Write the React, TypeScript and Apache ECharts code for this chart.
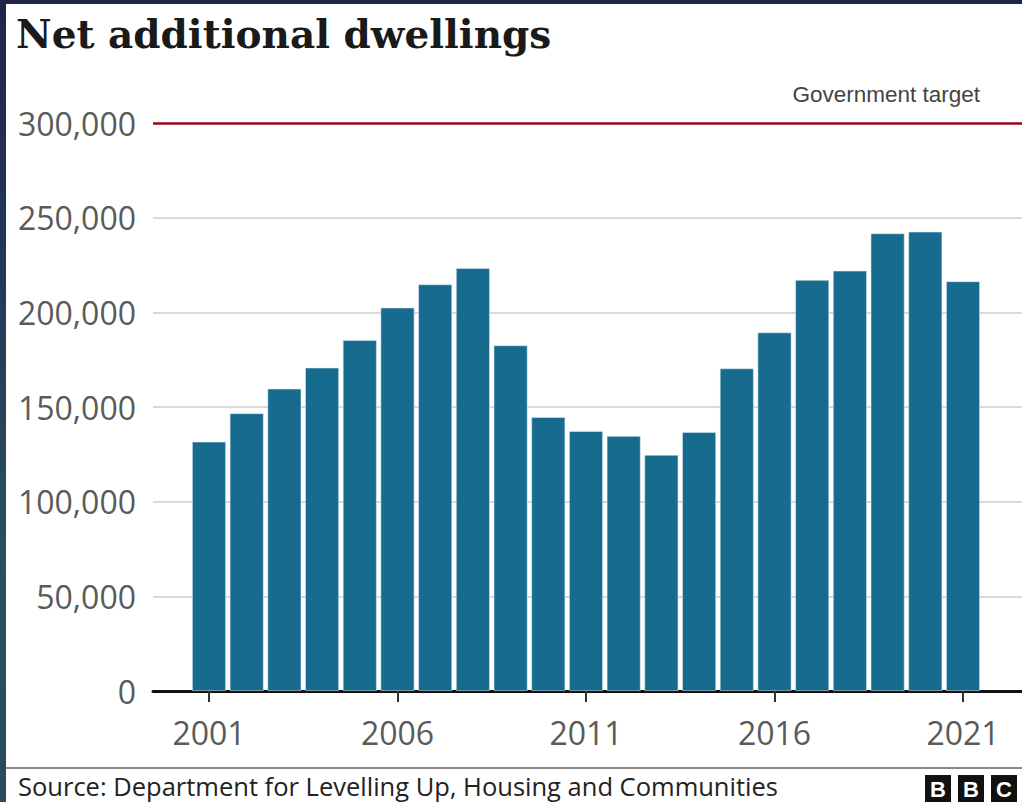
import React, { useEffect, useRef } from "react";
import * as echarts from "echarts";

const years = [2001, 2002, 2003, 2004, 2005, 2006, 2007, 2008, 2009, 2010, 2011, 2012, 2013, 2014, 2015, 2016, 2017, 2018, 2019, 2020, 2021];
const dwellings = [131700, 146700, 159700, 170800, 185400, 202500, 214800, 223400, 182600, 144700, 137300, 134700, 124700, 136800, 170400, 189400, 217100, 222000, 241700, 242600, 216400];
const tickYears = [2001, 2006, 2011, 2016, 2021];
const governmentTarget = 300000;

const title = "Net additional dwellings";
const source = "Source: Department for Levelling Up, Housing and Communities";
const targetLabel = "Government target";

export default function App() {
  const ref = useRef<HTMLDivElement>(null);
  useEffect(() => {
    if (!ref.current) return;
    const chart = echarts.init(ref.current, null, { renderer: "svg" });
    const sans = "'Open Sans', 'Noto Sans', sans-serif";
    chart.setOption({
      animation: false,
      backgroundColor: "#ffffff",
      grid: { left: 153, right: 0, top: 123, bottom: 111 },
      xAxis: {
        type: "value",
        min: 1999.515,
        max: 2022.565,
        splitLine: { show: false },
        axisLine: { show: true, onZero: false, lineStyle: { color: "#111", width: 3 } },
        axisTick: { show: true, customValues: tickYears, length: 11, lineStyle: { color: "#333", width: 2 } },
        axisLabel: {
          customValues: tickYears,
          formatter: (v: number) => String(v),
          fontSize: 32,
          fontFamily: sans,
          color: "#5a5a5a",
          margin: 25,
        },
      },
      yAxis: {
        type: "value",
        min: 0,
        max: 300000,
        interval: 50000,
        axisLine: { show: false },
        axisTick: { show: false },
        axisLabel: {
          formatter: (v: number) => v.toLocaleString("en-GB"),
          fontSize: 32,
          fontFamily: sans,
          color: "#5a5a5a",
          margin: 17,
        },
        splitLine: { lineStyle: { color: "#cccccc", width: 1.5 } },
      },
      series: [
        {
          type: "bar",
          data: years.map((y, i) => [y, dwellings[i]]),
          barWidth: 34,
          itemStyle: { color: "#176b8e", borderColor: "rgba(220,235,240,0.7)", borderWidth: 0.8 },
          markLine: {
            silent: true,
            symbol: "none",
            label: { show: false },
            lineStyle: { color: "#9b0a16", width: 2.5, type: "solid" },
            data: [{ yAxis: governmentTarget }],
          },
        },
      ],
      graphic: [
        {
          type: "rect",
          shape: { x: 0, y: 0, width: 6, height: 802 },
          style: {
            fill: new echarts.graphic.LinearGradient(0, 0, 0, 1, [
              { offset: 0, color: "#1f2449" },
              { offset: 0.4, color: "#263c58" },
              { offset: 0.7, color: "#2a4f5f" },
              { offset: 1, color: "#2b4a5c" },
            ]),
          },
          z: 100,
        },
        { type: "rect", shape: { x: 0, y: 0, width: 1022, height: 4 }, style: { fill: "#1f2449" }, z: 100 },
        {
          type: "text",
          left: 16,
          top: 14,
          style: { text: title, font: "bold 39px 'DejaVu Serif', serif", fill: "#1a1a1a" },
        },
        {
          type: "text",
          right: 42,
          top: 83,
          style: { text: targetLabel, font: "22.5px 'Liberation Sans', Arial, sans-serif", fill: "#444444" },
        },
        {
          type: "line",
          shape: { x1: 6, y1: 768, x2: 1022, y2: 768 },
          style: { stroke: "#8a8a8a", lineWidth: 2 },
        },
        {
          type: "text",
          left: 18,
          top: 773,
          style: { text: source, font: "25.5px 'Open Sans', 'Noto Sans', sans-serif", fill: "#222222" },
        },
        ...[0, 1, 2].map((i) => ({
          type: "group",
          left: 925 + i * 33,
          top: 775,
          children: [
            { type: "rect", shape: { x: 0, y: 0, width: 26, height: 27 }, style: { fill: "#111" } },
            {
              type: "text",
              x: 13,
              y: 14,
              style: {
                text: "BBC"[i],
                font: "bold 22px 'Liberation Sans', Arial, sans-serif",
                fill: "#ffffff",
                align: "center",
                verticalAlign: "middle",
              },
            },
          ],
        })),
      ],
    });
    return () => chart.dispose();
  }, []);
  return (
    <div style={{ position: "absolute", left: 0, top: 0, width: 1022, height: 802 }}>
      <div ref={ref} style={{ width: 1022, height: 802 }} />
    </div>
  );
}
